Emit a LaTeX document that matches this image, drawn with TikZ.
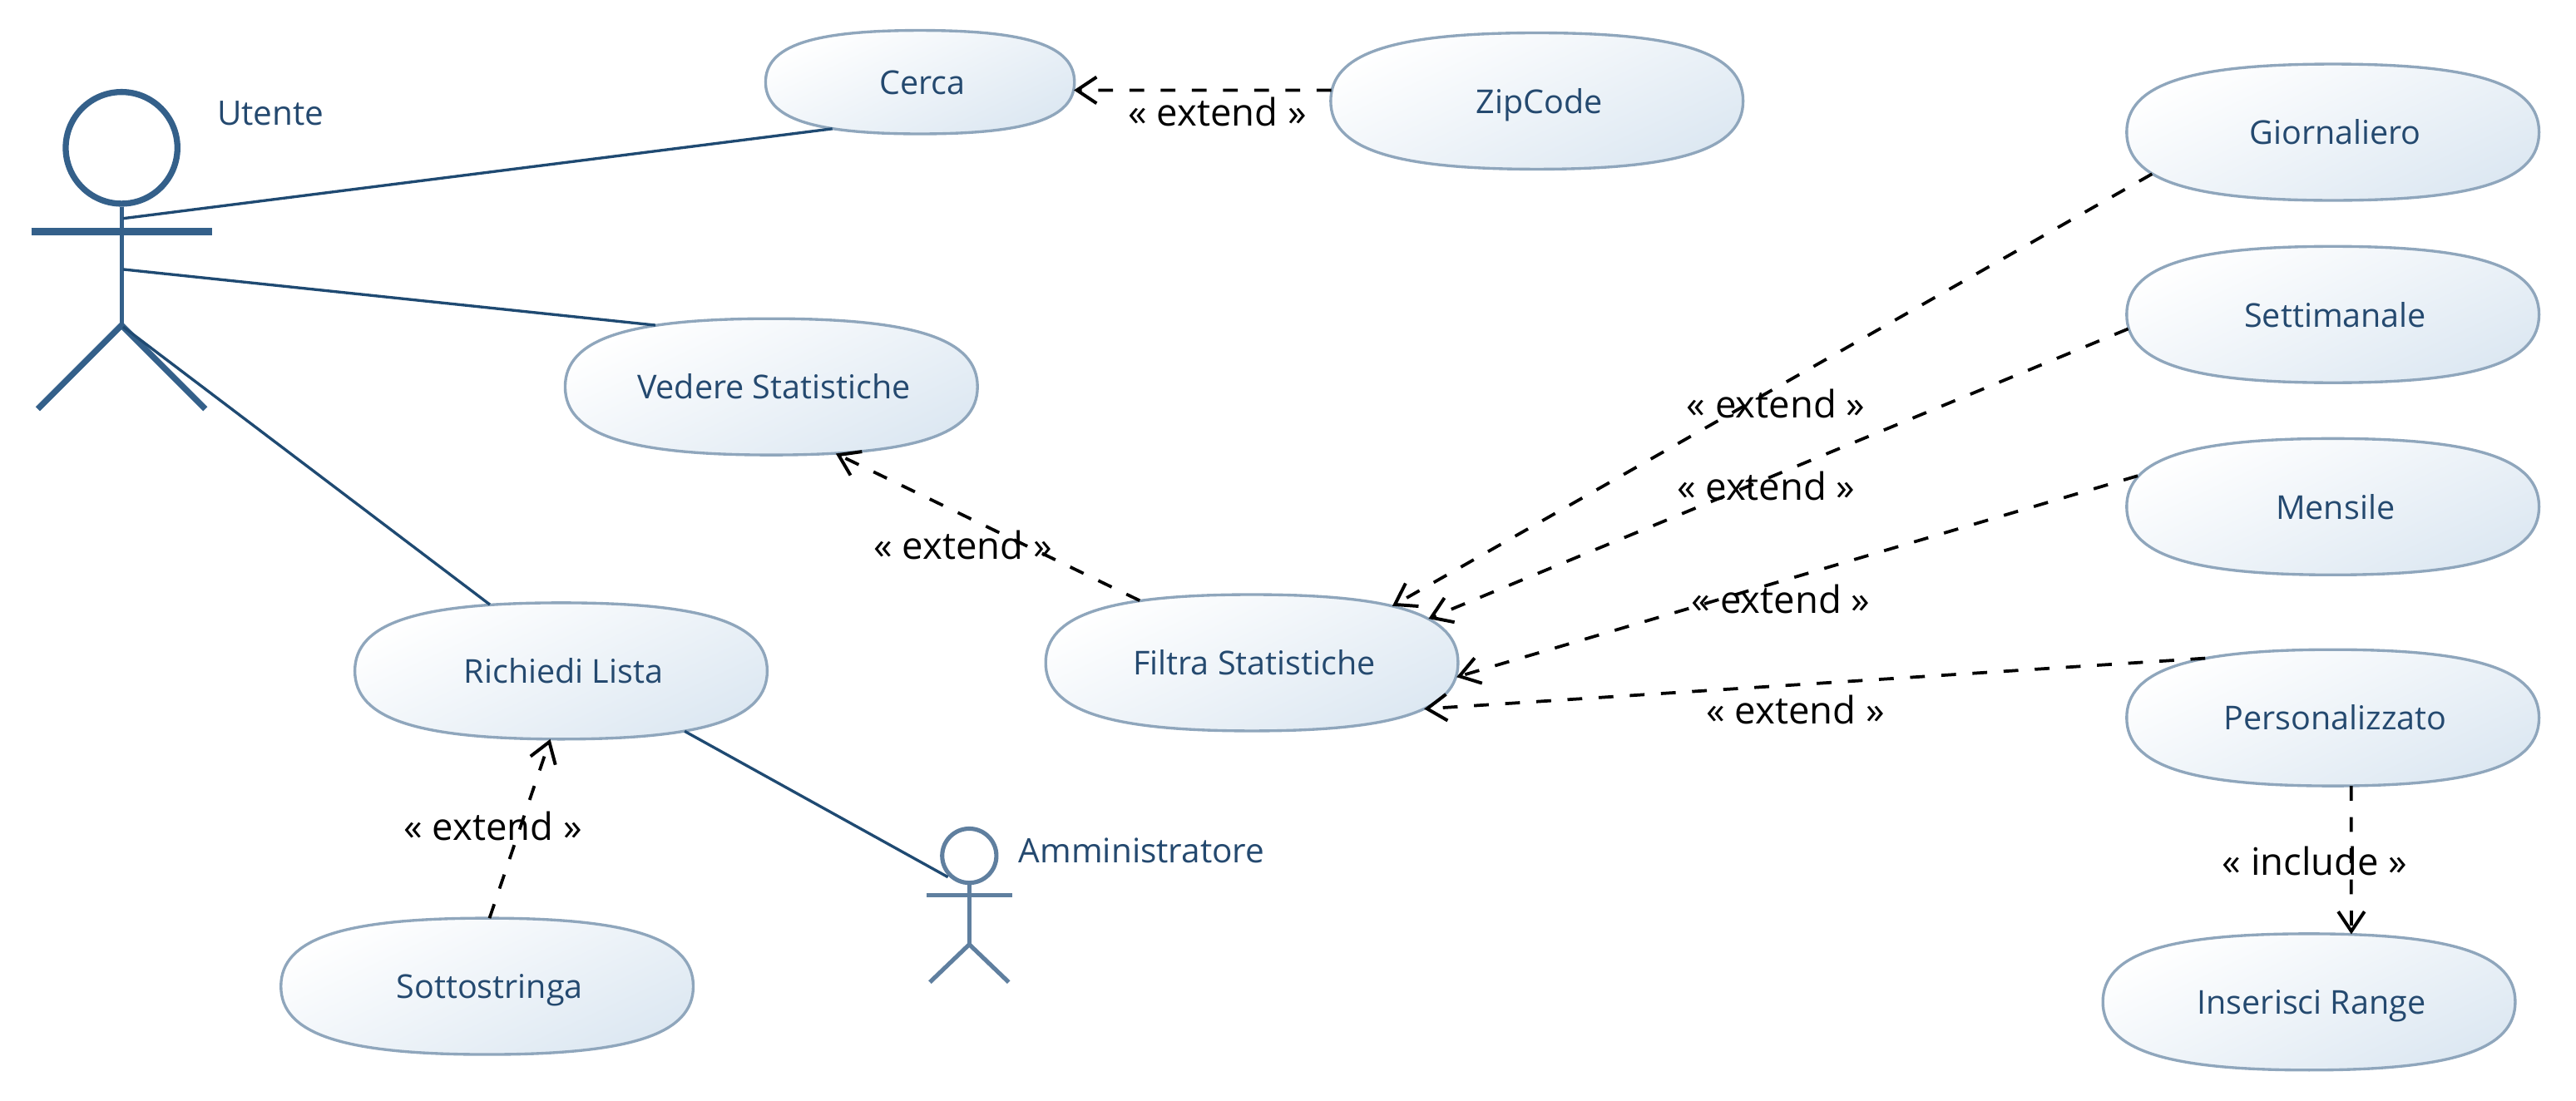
\documentclass[tikz,border=0pt]{standalone}
\usepackage{fontspec}
\setmainfont{Open Sans}
\usetikzlibrary{arrows.meta}
\definecolor{edgeblue}{HTML}{8FA6BC}
\definecolor{fillblue}{HTML}{DDE8F2}
\definecolor{textblue}{HTML}{24496F}
\definecolor{lineblue}{HTML}{1F4A72}
\definecolor{actorblue}{HTML}{34608A}
\definecolor{actorlight}{HTML}{5F7F9F}
\makeatletter
\pgfdeclareshape{usecase}{%
  \savedanchor\ucradius{%
    \pgfmathsetlength\pgf@xb{\pgfkeysvalueof{/pgf/minimum width}}%
    \pgfmathsetlength\pgf@yb{\pgfkeysvalueof{/pgf/minimum height}}%
    \pgf@x=.5\pgf@xb \pgf@y=.5\pgf@yb}%
  \anchor{center}{\pgfpointorigin}%
  \anchor{text}{\pgf@x=-.5\wd\pgfnodeparttextbox \advance\pgf@x by 1.5pt \pgf@y=-.5\ht\pgfnodeparttextbox \advance\pgf@y by .5\dp\pgfnodeparttextbox}%
  \anchorborder{%
    \edef\ucdx{\pgf@sys@tonumber\pgf@x}\edef\ucdy{\pgf@sys@tonumber\pgf@y}%
    \ucradius
    \edef\ucrx{\pgf@sys@tonumber\pgf@x}\edef\ucry{\pgf@sys@tonumber\pgf@y}%
    \pgfmathsetmacro\ucphi{atan2(\ucdy*\ucrx,\ucdx*\ucry)}%
    \pgfmathsetmacro\ucc{cos(\ucphi)}\pgfmathsetmacro\ucs{sin(\ucphi)}%
    \pgfmathsetmacro\uct{pow(pow(abs(\ucc),2.56)+pow(abs(\ucs),2.56),-1/2.56)}%
    \pgfmathsetmacro\ucpx{\ucrx*\uct*\ucc}\pgfmathsetmacro\ucpy{\ucry*\uct*\ucs}%
    \pgf@x=\ucpx pt \pgf@y=\ucpy pt
  }%
  \backgroundpath{%
    \ucradius
    \pgf@xa=\pgf@x \pgf@ya=\pgf@y
    \edef\ucA{\the\pgf@xa}\edef\ucB{\the\pgf@ya}%
    \pgf@xa=.7\pgf@xa \pgf@ya=.7\pgf@ya
    \edef\ucKA{\the\pgf@xa}\edef\ucKB{\the\pgf@ya}%
    \pgfpathmoveto{\pgfqpoint{\ucA}{0pt}}%
    \pgfpathcurveto{\pgfqpoint{\ucA}{\ucKB}}{\pgfqpoint{\ucKA}{\ucB}}{\pgfqpoint{0pt}{\ucB}}%
    \pgfpathcurveto{\pgfqpoint{-\ucKA}{\ucB}}{\pgfqpoint{-\ucA}{\ucKB}}{\pgfqpoint{-\ucA}{0pt}}%
    \pgfpathcurveto{\pgfqpoint{-\ucA}{-\ucKB}}{\pgfqpoint{-\ucKA}{-\ucB}}{\pgfqpoint{0pt}{-\ucB}}%
    \pgfpathcurveto{\pgfqpoint{\ucKA}{-\ucB}}{\pgfqpoint{\ucA}{-\ucKB}}{\pgfqpoint{\ucA}{0pt}}%
    \pgfpathclose
  }%
}
\makeatother
\tikzset{
  usecasebox/.style={shape=usecase,draw=edgeblue,line width=1.7pt,outer sep=0pt,inner sep=0pt,
    top color=white,bottom color=fillblue,shading angle=25,
    minimum width=251pt,minimum height=83pt,text=textblue,text height=19pt,text depth=4pt,
    font=\fontsize{20}{23}\selectfont},
  actorname/.style={text=textblue,font=\fontsize{20.5}{23}\selectfont,inner sep=0pt},
  stereo/.style={text=black,font=\fontsize{23}{26}\selectfont,inner sep=0pt},
  assoc/.style={draw=lineblue,line width=1.7pt},
  dep/.style={draw=black,line width=1.9pt,dash pattern=on 9pt off 10pt,
    -{Straight Barb[length=12pt,width=16pt,line width=2pt]}},
  bigactor/.style={draw=actorblue,line width=3.7pt},
  smallactor/.style={draw=actorlight,line width=2.6pt},
}
\begin{document}
\begin{tikzpicture}[x=1pt,y=-1pt]
\useasboundingbox (0,0) rectangle (1568,670.3);
% use cases
\node[usecasebox,minimum width=188pt,minimum height=63pt] (cerca) at (560,50) {Cerca};
\node[usecasebox] (zip) at (935.5,61.5) {ZipCode};
\node[usecasebox] (vedere) at (469.5,235.5) {Vedere Statistiche};
\node[usecasebox] (richiedi) at (341.5,408.5) {Richiedi Lista};
\node[usecasebox] (sotto) at (296.5,600.5) {Sottostringa};
\node[usecasebox] (filtra) at (762,403.5) {Filtra Statistiche};
\node[usecasebox] (giorn) at (1420,80.5) {Giornaliero};
\node[usecasebox] (sett) at (1420,191.5) {Settimanale};
\node[usecasebox] (mens) at (1420,308.5) {Mensile};
\node[usecasebox] (pers) at (1420,437) {Personalizzato};
\node[usecasebox] (range) at (1405.5,610) {Inserisci Range};
% actor Utente
\node[circle,bigactor,minimum size=68pt,inner sep=0pt] (utente) at (74,90) {};
\draw[bigactor,line width=2.6pt] (utente.south) -- (74,198) coordinate (uhip);
\draw[bigactor,line width=4.2pt] (19,141) -- (129,141);
\draw[bigactor] (23,249) -- (uhip) -- (125,249);
\coordinate (utenteA) at (75,133);
\coordinate (utenteB) at (75,164);
\coordinate (utenteC) at (75,199);
\node[actorname,anchor=west] (utentelabel) at (132,69) {Utente};
% actor Amministratore
\node[circle,smallactor,minimum size=33pt,inner sep=0pt] (admin) at (590,521) {};
\draw[smallactor] (admin.south) -- (590,575) coordinate (ahip);
\draw[smallactor] (564,545) -- (616,545);
\draw[smallactor] (566,598) -- (ahip) -- (614,598);
\coordinate (adminA) at (577,534);
\node[actorname,anchor=west] (adminlabel) at (620,518) {Amministratore};
% associations
\draw[assoc] (utenteA) -- (cerca.208.3);
\draw[assoc] (utenteB) -- (vedere.152);
\draw[assoc] (utenteC) -- (richiedi.137);
\draw[assoc] (richiedi.-26) -- (adminA);
% dependencies
\draw[dep] (zip.177) -- (cerca.-3);
\draw[dep] (filtra.151.8) -- (vedere.-46.4);
\draw[dep] (sotto.88) -- (richiedi.261);
\draw[dep] (giorn.193.8) -- (filtra.22.9);
\draw[dep] (sett.184.4) -- (filtra.14.8);
\draw[dep] (mens.171.6) -- (filtra.-4.3);
\draw[dep] (pers.155.7) -- (filtra.-15.6);
\draw[dep] (pers.285) -- (range.58);
% labels
\node[stereo] (l1) at (741,68) {« extend »};
\node[stereo] (l2) at (586,332) {« extend »};
\node[stereo] (l3) at (300,503) {« extend »};
\node[stereo] (l4) at (1081,246) {« extend »};
\node[stereo] (l5) at (1075,296) {« extend »};
\node[stereo] (l6) at (1084,365) {« extend »};
\node[stereo] (l7) at (1093,432) {« extend »};
\node[stereo] (l8) at (1409,524) {« include »};
\end{tikzpicture}
\end{document}
